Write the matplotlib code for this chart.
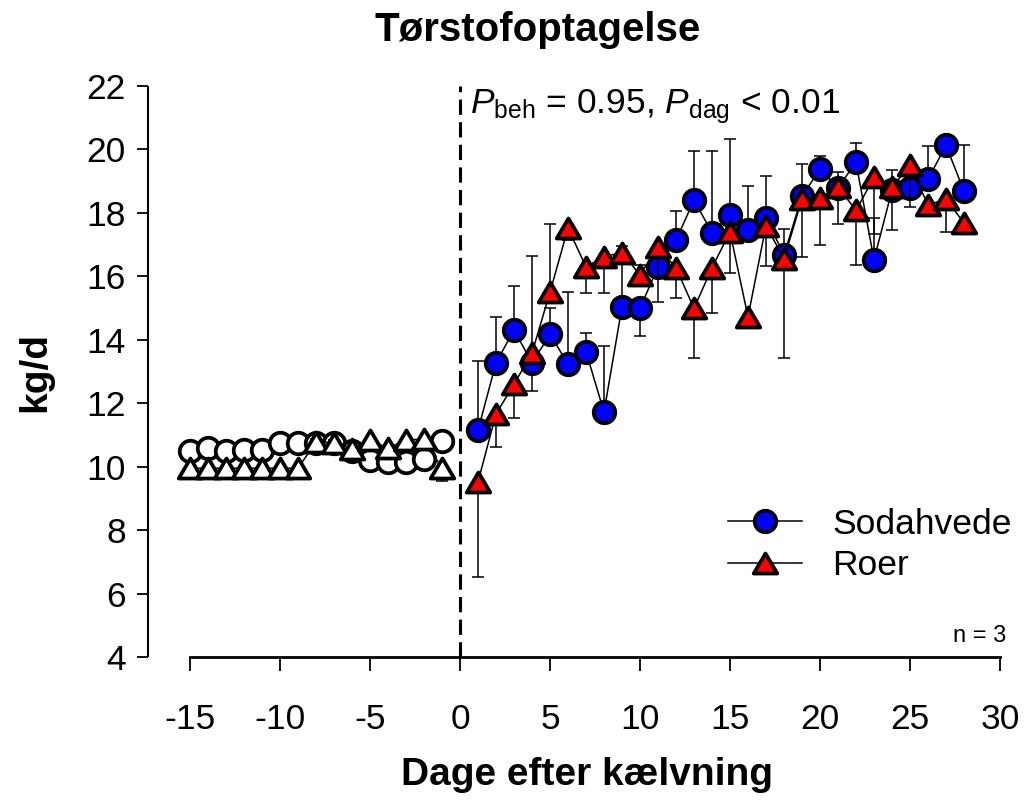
import matplotlib
matplotlib.use('Agg')
import matplotlib.pyplot as plt
from matplotlib.path import Path
from matplotlib.lines import Line2D
import numpy as np

plt.rcParams['font.family'] = ['Liberation Sans', 'DejaVu Sans']
plt.rcParams['mathtext.fontset'] = 'custom'
plt.rcParams['mathtext.rm'] = 'Liberation Sans'
plt.rcParams['mathtext.it'] = 'Liberation Sans:italic'
plt.rcParams['axes.unicode_minus'] = False

# ---------------- data ----------------
pre_days = [-15, -14, -13, -12, -11, -10, -9, -8, -7, -6, -5, -4, -3, -2, -1]
pre_soda = [10.49, 10.58, 10.50, 10.53, 10.53, 10.76, 10.76, 10.76, 10.74, 10.48, 10.21, 10.14, 10.16, 10.23, 10.80]
pre_soda_up = [0.15, 0.20, 0.15, 0.15, 0.15, 0.12, 0.10, 0.05, 0.05, 0.10, 0.10, 0.10, 0.10, 0.10, 0.32]
pre_soda_lo = [0, 0, 0, 0, 0, 0, 0, 0, 0, 0, 0, 0, 0, 0, 0]
pre_roer = [9.95, 9.95, 9.95, 9.95, 9.95, 9.95, 9.95, 10.78, 10.76, 10.57, 10.84, 10.58, 10.85, 10.86, 9.95]
pre_roer_up = [0, 0, 0, 0, 0, 0, 0, 0.08, 0.08, 0, 0, 0, 0, 0, 0]
pre_roer_lo = [0, 0, 0, 0, 0, 0, 0, 0, 0, 0.12, 0.10, 0.12, 0.10, 0.08, 0.39]

days = [1, 2, 3, 4, 5, 6, 7, 8, 9, 10, 11, 12, 13, 14,
        15, 16, 17, 18, 19, 20, 21, 22, 23, 24, 25, 26, 27, 28]
soda = [11.15, 13.27, 14.31, 13.27, 14.17, 13.24, 13.63, 11.72, 15.04, 14.99, 16.30, 17.14, 18.40, 17.38,
        17.92, 17.46, 17.85, 16.67, 18.53, 19.37, 18.80, 19.59, 16.52, 18.72, 18.78, 19.06, 20.13, 18.68]
soda_up = [2.19, 1.46, 1.40, 0, 0.82, 2.28, 0.57, 2.08, 1.92, 0, 0, 0.91, 1.54, 2.56,
           2.40, 1.40, 1.30, 0.82, 1.01, 0.42, 0.48, 0.61, 1.31, 0.63, 0, 1.04, 0, 1.46]
soda_lo = [0, 0, 0, 0.90, 0, 0, 0, 0, 0, 0.86, 0, 0, 0, 0,
           0, 0, 0, 0, 0, 0, 0, 0, 0, 0, 0, 0, 0, 0]
roer = [9.52, 11.66, 12.60, 13.58, 15.50, 17.52, 16.30, 16.62, 16.75, 16.04, 16.92, 16.27, 14.99, 16.27,
        17.40, 14.72, 17.60, 16.55, 18.44, 18.48, 18.82, 18.08, 19.12, 18.81, 19.50, 18.25, 18.44, 17.68]
roer_up = [0, 0, 0, 3.07, 2.15, 0, 0, 0, 0, 0.32, 0, 0, 0, 0,
           0, 0, 0, 0, 0, 0, 0, 0, 0, 0, 0, 0, 0, 0]
roer_lo = [3.00, 1.04, 1.08, 0, 0, 0.37, 0.82, 1.16, 0, 0, 1.72, 0.96, 1.55, 1.42,
           1.30, 0.17, 1.27, 3.14, 1.82, 1.49, 1.17, 1.72, 1.79, 1.35, 1.30, 0.10, 1.03, 0.18]

series_names = ['Sodahvede', 'Roer']
x_ticks = [-15, -10, -5, 0, 5, 10, 15, 20, 25, 30]
y_ticks = [4, 6, 8, 10, 12, 14, 16, 18, 20, 22]

# ---------------- figure ----------------
fig = plt.figure(figsize=(10.32, 8.01), dpi=100)
ax = fig.add_axes([148 / 1032, 144 / 801, 852 / 1032, 571 / 801])

tri = Path([(0, 0.85), (-1, -0.85), (1, -0.85), (0, 0.85)],
           [Path.MOVETO, Path.LINETO, Path.LINETO, Path.CLOSEPOLY])

MS_C = 15.5
MS_T = 17
MEW = 2.7
CAP = 4.3


def errbars(x, y, lo, up, z):
    x = np.asarray(x, float)
    y = np.asarray(y, float)
    lo = np.asarray(lo, float)
    up = np.asarray(up, float)
    for sel, ends in ((up > 0, y + up), (lo > 0, y - lo)):
        if sel.any():
            ax.vlines(x[sel], y[sel], ends[sel], colors='black', lw=1.1, zorder=z, clip_on=False)
            ax.plot(x[sel], ends[sel], ls='none', marker='_', ms=2 * CAP, mew=1.1,
                    color='black', zorder=z, clip_on=False)


def series(x, y, lo, up, marker, ms, face, z0):
    ax.plot(x, y, '-', color='black', lw=1.1, zorder=z0, clip_on=False)
    errbars(x, y, lo, up, z0 + 1)
    ax.plot(x, y, ls='none', marker=marker, ms=ms, mfc=face, mec='black', mew=MEW,
            zorder=z0 + 2, clip_on=False)


# pre-calving (open symbols)
series(pre_days, pre_soda, pre_soda_lo, pre_soda_up, 'o', MS_C, 'white', 2)
series(pre_days, pre_roer, pre_roer_lo, pre_roer_up, tri, MS_T, 'white', 5)
# post-calving
series(days, soda, soda_lo, soda_up, 'o', MS_C, '#0000FF', 8)
series(days, roer, roer_lo, roer_up, tri, MS_T, '#FF0000', 11)

# calving line
ax.axvline(0, color='black', lw=2.2, ls=(0, (5, 2.4)), zorder=1)

ax.set_xlim(-17.333, 30)
ax.set_ylim(4, 22)
ax.set_xticks(x_ticks)
ax.set_yticks(y_ticks)
ax.tick_params(axis='both', labelsize=25.5, direction='out', width=1.3, color='black')
ax.tick_params(axis='y', length=8, pad=8)
ax.tick_params(axis='x', length=10, pad=23)
for s in ('top', 'right'):
    ax.spines[s].set_visible(False)
ax.spines['left'].set_linewidth(1.5)
ax.spines['bottom'].set_linewidth(2.0)
ax.spines['bottom'].set_bounds(-15, 30)
ax.spines['left'].set_capstyle('butt')

# texts
fig.text(538 / 1032, 1 - 30 / 801, 'Tørstofoptagelse', ha='center', va='center',
         fontsize=29, fontweight='bold')
fig.text(35 / 1032, 1 - 372 / 801, 'kg/d', ha='center', va='center', rotation=90,
         fontsize=28, fontweight='bold')
fig.text(587 / 1032, 1 - 775 / 801, 'Dage efter kælvning', ha='center', va='center',
         fontsize=28, fontweight='bold')
fig.text(470 / 1032, 1 - 113 / 801, r'$P_{\rm beh}$ = 0.95, $P_{\rm dag}$ < 0.01',
         ha='left', va='baseline', fontsize=25.5)
fig.text(1006 / 1032, 1 - 636 / 801, 'n = 3', ha='right', va='center', fontsize=17)

# legend
handles = [Line2D([], [], color='black', lw=1.1, marker='o', ms=MS_C, mfc='#0000FF',
                  mec='black', mew=MEW),
           Line2D([], [], color='black', lw=1.1, marker=tri, ms=MS_T, mfc='#FF0000',
                  mec='black', mew=MEW)]
fig.legend(handles, series_names, loc='center left', bbox_to_anchor=(728 / 1032, 1 - 545 / 801),
           frameon=False, fontsize=25.5, handlelength=2.1, handletextpad=0.85,
           labelspacing=0.25, borderpad=0, borderaxespad=0)

fig.savefig('out.png', dpi=100)
